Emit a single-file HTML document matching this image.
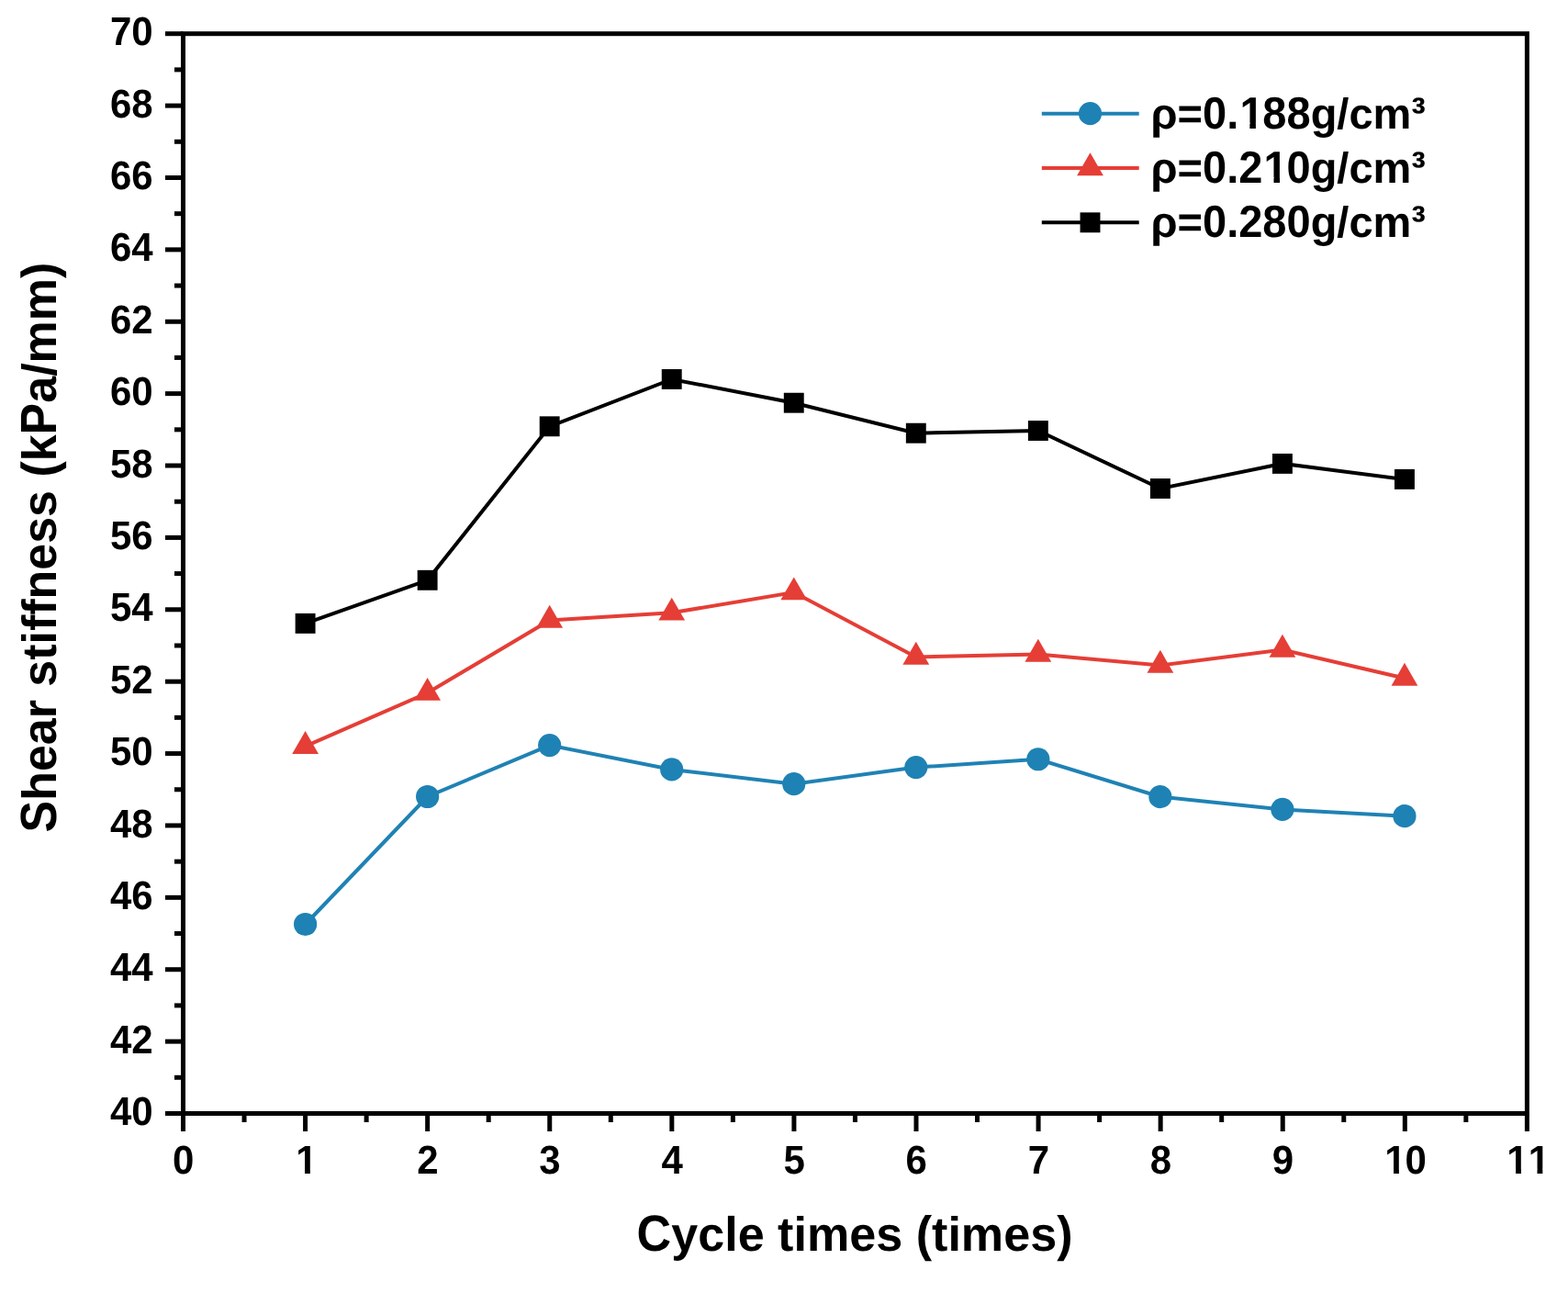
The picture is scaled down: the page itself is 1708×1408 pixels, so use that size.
<!DOCTYPE html>
<html><head><meta charset="utf-8"><title>Shear stiffness vs cycle times</title>
<style>
html,body{margin:0;padding:0;background:#fff;}
body{width:1708px;height:1408px;overflow:hidden;}
svg{display:block;}
text{font-family:"Liberation Sans",Arial,sans-serif;font-weight:bold;fill:#000;font-kerning:none;text-rendering:geometricPrecision;}
</style></head><body>
<svg width="1708" height="1408" viewBox="0 0 1708 1408">
<rect width="1708" height="1408" fill="#fff"/>
<polyline points="332.60,1006.50 465.64,867.50 598.68,811.60 731.72,837.90 864.76,853.70 997.80,835.60 1130.84,826.75 1263.88,867.70 1396.92,881.40 1529.96,888.70" fill="none" stroke="#1f82b4" stroke-width="4" stroke-linejoin="miter"/>
<circle cx="332.60" cy="1006.50" r="12.6" fill="#1f82b4"/>
<circle cx="465.64" cy="867.50" r="12.6" fill="#1f82b4"/>
<circle cx="598.68" cy="811.60" r="12.6" fill="#1f82b4"/>
<circle cx="731.72" cy="837.90" r="12.6" fill="#1f82b4"/>
<circle cx="864.76" cy="853.70" r="12.6" fill="#1f82b4"/>
<circle cx="997.80" cy="835.60" r="12.6" fill="#1f82b4"/>
<circle cx="1130.84" cy="826.75" r="12.6" fill="#1f82b4"/>
<circle cx="1263.88" cy="867.70" r="12.6" fill="#1f82b4"/>
<circle cx="1396.92" cy="881.40" r="12.6" fill="#1f82b4"/>
<circle cx="1529.96" cy="888.70" r="12.6" fill="#1f82b4"/>
<polyline points="332.60,812.60 465.64,754.55 598.68,675.50 731.72,667.30 864.76,645.05 997.80,715.40 1130.84,712.50 1263.88,724.50 1396.92,707.50 1529.96,738.50" fill="none" stroke="#e53e36" stroke-width="4" stroke-linejoin="miter"/>
<polygon points="332.60,795.97 318.20,820.91 347.00,820.91" fill="#e53e36"/>
<polygon points="465.64,737.92 451.24,762.86 480.04,762.86" fill="#e53e36"/>
<polygon points="598.68,658.87 584.28,683.81 613.08,683.81" fill="#e53e36"/>
<polygon points="731.72,650.67 717.32,675.61 746.12,675.61" fill="#e53e36"/>
<polygon points="864.76,628.42 850.36,653.36 879.16,653.36" fill="#e53e36"/>
<polygon points="997.80,698.77 983.40,723.71 1012.20,723.71" fill="#e53e36"/>
<polygon points="1130.84,695.87 1116.44,720.81 1145.24,720.81" fill="#e53e36"/>
<polygon points="1263.88,707.87 1249.48,732.81 1278.28,732.81" fill="#e53e36"/>
<polygon points="1396.92,690.87 1382.52,715.81 1411.32,715.81" fill="#e53e36"/>
<polygon points="1529.96,721.87 1515.56,746.81 1544.36,746.81" fill="#e53e36"/>
<polyline points="332.60,678.90 465.64,631.80 598.68,464.30 731.72,412.95 864.76,438.70 997.80,471.70 1130.84,469.00 1263.88,532.00 1396.92,504.90 1529.96,521.90" fill="none" stroke="#000000" stroke-width="4" stroke-linejoin="miter"/>
<rect x="321.65" y="667.95" width="21.9" height="21.9" fill="#000000"/>
<rect x="454.69" y="620.85" width="21.9" height="21.9" fill="#000000"/>
<rect x="587.73" y="453.35" width="21.9" height="21.9" fill="#000000"/>
<rect x="720.77" y="402.00" width="21.9" height="21.9" fill="#000000"/>
<rect x="853.81" y="427.75" width="21.9" height="21.9" fill="#000000"/>
<rect x="986.85" y="460.75" width="21.9" height="21.9" fill="#000000"/>
<rect x="1119.89" y="458.05" width="21.9" height="21.9" fill="#000000"/>
<rect x="1252.93" y="521.05" width="21.9" height="21.9" fill="#000000"/>
<rect x="1385.97" y="493.95" width="21.9" height="21.9" fill="#000000"/>
<rect x="1519.01" y="510.95" width="21.9" height="21.9" fill="#000000"/>
<rect x="199.50" y="36.70" width="1463.90" height="1175.80" fill="none" stroke="#000" stroke-width="5"/>
<line x1="180.00" y1="1212.50" x2="199.50" y2="1212.50" stroke="#000" stroke-width="5"/>
<line x1="190.00" y1="1173.31" x2="199.50" y2="1173.31" stroke="#000" stroke-width="5"/>
<line x1="180.00" y1="1134.11" x2="199.50" y2="1134.11" stroke="#000" stroke-width="5"/>
<line x1="190.00" y1="1094.92" x2="199.50" y2="1094.92" stroke="#000" stroke-width="5"/>
<line x1="180.00" y1="1055.73" x2="199.50" y2="1055.73" stroke="#000" stroke-width="5"/>
<line x1="190.00" y1="1016.53" x2="199.50" y2="1016.53" stroke="#000" stroke-width="5"/>
<line x1="180.00" y1="977.34" x2="199.50" y2="977.34" stroke="#000" stroke-width="5"/>
<line x1="190.00" y1="938.15" x2="199.50" y2="938.15" stroke="#000" stroke-width="5"/>
<line x1="180.00" y1="898.95" x2="199.50" y2="898.95" stroke="#000" stroke-width="5"/>
<line x1="190.00" y1="859.76" x2="199.50" y2="859.76" stroke="#000" stroke-width="5"/>
<line x1="180.00" y1="820.57" x2="199.50" y2="820.57" stroke="#000" stroke-width="5"/>
<line x1="190.00" y1="781.37" x2="199.50" y2="781.37" stroke="#000" stroke-width="5"/>
<line x1="180.00" y1="742.18" x2="199.50" y2="742.18" stroke="#000" stroke-width="5"/>
<line x1="190.00" y1="702.99" x2="199.50" y2="702.99" stroke="#000" stroke-width="5"/>
<line x1="180.00" y1="663.79" x2="199.50" y2="663.79" stroke="#000" stroke-width="5"/>
<line x1="190.00" y1="624.60" x2="199.50" y2="624.60" stroke="#000" stroke-width="5"/>
<line x1="180.00" y1="585.41" x2="199.50" y2="585.41" stroke="#000" stroke-width="5"/>
<line x1="190.00" y1="546.21" x2="199.50" y2="546.21" stroke="#000" stroke-width="5"/>
<line x1="180.00" y1="507.02" x2="199.50" y2="507.02" stroke="#000" stroke-width="5"/>
<line x1="190.00" y1="467.83" x2="199.50" y2="467.83" stroke="#000" stroke-width="5"/>
<line x1="180.00" y1="428.63" x2="199.50" y2="428.63" stroke="#000" stroke-width="5"/>
<line x1="190.00" y1="389.44" x2="199.50" y2="389.44" stroke="#000" stroke-width="5"/>
<line x1="180.00" y1="350.25" x2="199.50" y2="350.25" stroke="#000" stroke-width="5"/>
<line x1="190.00" y1="311.05" x2="199.50" y2="311.05" stroke="#000" stroke-width="5"/>
<line x1="180.00" y1="271.86" x2="199.50" y2="271.86" stroke="#000" stroke-width="5"/>
<line x1="190.00" y1="232.67" x2="199.50" y2="232.67" stroke="#000" stroke-width="5"/>
<line x1="180.00" y1="193.47" x2="199.50" y2="193.47" stroke="#000" stroke-width="5"/>
<line x1="190.00" y1="154.28" x2="199.50" y2="154.28" stroke="#000" stroke-width="5"/>
<line x1="180.00" y1="115.09" x2="199.50" y2="115.09" stroke="#000" stroke-width="5"/>
<line x1="190.00" y1="75.89" x2="199.50" y2="75.89" stroke="#000" stroke-width="5"/>
<line x1="180.00" y1="36.70" x2="199.50" y2="36.70" stroke="#000" stroke-width="5"/>
<line x1="199.50" y1="1212.50" x2="199.50" y2="1232.00" stroke="#000" stroke-width="5"/>
<line x1="266.04" y1="1212.50" x2="266.04" y2="1222.00" stroke="#000" stroke-width="5"/>
<line x1="332.58" y1="1212.50" x2="332.58" y2="1232.00" stroke="#000" stroke-width="5"/>
<line x1="399.12" y1="1212.50" x2="399.12" y2="1222.00" stroke="#000" stroke-width="5"/>
<line x1="465.66" y1="1212.50" x2="465.66" y2="1232.00" stroke="#000" stroke-width="5"/>
<line x1="532.20" y1="1212.50" x2="532.20" y2="1222.00" stroke="#000" stroke-width="5"/>
<line x1="598.75" y1="1212.50" x2="598.75" y2="1232.00" stroke="#000" stroke-width="5"/>
<line x1="665.29" y1="1212.50" x2="665.29" y2="1222.00" stroke="#000" stroke-width="5"/>
<line x1="731.83" y1="1212.50" x2="731.83" y2="1232.00" stroke="#000" stroke-width="5"/>
<line x1="798.37" y1="1212.50" x2="798.37" y2="1222.00" stroke="#000" stroke-width="5"/>
<line x1="864.91" y1="1212.50" x2="864.91" y2="1232.00" stroke="#000" stroke-width="5"/>
<line x1="931.45" y1="1212.50" x2="931.45" y2="1222.00" stroke="#000" stroke-width="5"/>
<line x1="997.99" y1="1212.50" x2="997.99" y2="1232.00" stroke="#000" stroke-width="5"/>
<line x1="1064.53" y1="1212.50" x2="1064.53" y2="1222.00" stroke="#000" stroke-width="5"/>
<line x1="1131.07" y1="1212.50" x2="1131.07" y2="1232.00" stroke="#000" stroke-width="5"/>
<line x1="1197.61" y1="1212.50" x2="1197.61" y2="1222.00" stroke="#000" stroke-width="5"/>
<line x1="1264.15" y1="1212.50" x2="1264.15" y2="1232.00" stroke="#000" stroke-width="5"/>
<line x1="1330.70" y1="1212.50" x2="1330.70" y2="1222.00" stroke="#000" stroke-width="5"/>
<line x1="1397.24" y1="1212.50" x2="1397.24" y2="1232.00" stroke="#000" stroke-width="5"/>
<line x1="1463.78" y1="1212.50" x2="1463.78" y2="1222.00" stroke="#000" stroke-width="5"/>
<line x1="1530.32" y1="1212.50" x2="1530.32" y2="1232.00" stroke="#000" stroke-width="5"/>
<line x1="1596.86" y1="1212.50" x2="1596.86" y2="1222.00" stroke="#000" stroke-width="5"/>
<line x1="1663.40" y1="1212.50" x2="1663.40" y2="1232.00" stroke="#000" stroke-width="5"/>
<text transform="translate(119.98,1225.10) scale(1,1.04)" font-size="42">40</text>
<text transform="translate(119.98,1146.71) scale(1,1.04)" font-size="42">42</text>
<text transform="translate(119.98,1068.33) scale(1,1.04)" font-size="42">44</text>
<text transform="translate(119.98,989.94) scale(1,1.04)" font-size="42">46</text>
<text transform="translate(119.98,911.55) scale(1,1.04)" font-size="42">48</text>
<text transform="translate(119.98,833.17) scale(1,1.04)" font-size="42">50</text>
<text transform="translate(119.98,754.78) scale(1,1.04)" font-size="42">52</text>
<text transform="translate(119.98,676.39) scale(1,1.04)" font-size="42">54</text>
<text transform="translate(119.98,598.01) scale(1,1.04)" font-size="42">56</text>
<text transform="translate(119.98,519.62) scale(1,1.04)" font-size="42">58</text>
<text transform="translate(119.98,441.23) scale(1,1.04)" font-size="42">60</text>
<text transform="translate(119.98,362.85) scale(1,1.04)" font-size="42">62</text>
<text transform="translate(119.98,284.46) scale(1,1.04)" font-size="42">64</text>
<text transform="translate(119.98,206.07) scale(1,1.04)" font-size="42">66</text>
<text transform="translate(119.98,127.69) scale(1,1.04)" font-size="42">68</text>
<text transform="translate(119.98,49.30) scale(1,1.04)" font-size="42">70</text>
<text transform="translate(188.07,1278.30) scale(1,1.04)" font-size="42">0</text>
<text transform="translate(321.15,1278.30) scale(1,1.04)" font-size="42"><tspan dx="1.09">1</tspan></text>
<rect x="323.90" y="1272.84" width="8.10" height="7.46" fill="#fff"/>
<rect x="337.85" y="1272.84" width="7.54" height="7.46" fill="#fff"/>
<text transform="translate(454.23,1278.30) scale(1,1.04)" font-size="42">2</text>
<text transform="translate(587.32,1278.30) scale(1,1.04)" font-size="42">3</text>
<text transform="translate(720.40,1278.30) scale(1,1.04)" font-size="42">4</text>
<text transform="translate(853.48,1278.30) scale(1,1.04)" font-size="42">5</text>
<text transform="translate(986.56,1278.30) scale(1,1.04)" font-size="42">6</text>
<text transform="translate(1119.64,1278.30) scale(1,1.04)" font-size="42">7</text>
<text transform="translate(1252.73,1278.30) scale(1,1.04)" font-size="42">8</text>
<text transform="translate(1385.81,1278.30) scale(1,1.04)" font-size="42">9</text>
<text transform="translate(1507.21,1278.30) scale(1,1.04)" font-size="42"><tspan dx="1.09">1</tspan><tspan dx="-1.09">0</tspan></text>
<rect x="1509.95" y="1272.84" width="8.10" height="7.46" fill="#fff"/>
<rect x="1523.91" y="1272.84" width="7.54" height="7.46" fill="#fff"/>
<text transform="translate(1640.29,1278.30) scale(1,1.04)" font-size="42"><tspan dx="1.09">1</tspan><tspan dx="0.00">1</tspan></text>
<rect x="1643.03" y="1272.84" width="8.10" height="7.46" fill="#fff"/>
<rect x="1656.99" y="1272.84" width="7.54" height="7.46" fill="#fff"/>
<rect x="1666.39" y="1272.84" width="8.10" height="7.46" fill="#fff"/>
<rect x="1680.35" y="1272.84" width="7.54" height="7.46" fill="#fff"/>
<text transform="translate(693.61,1361.80) scale(1,1.065)" font-size="52.1">C</text>
<text transform="translate(731.24,1361.80) scale(1,1.01)" font-size="52.1">ycle times </text>
<text transform="translate(997.69,1361.80) scale(1,1.03)" font-size="52.1">(</text>
<text transform="translate(1015.04,1361.80) scale(1,1.01)" font-size="52.1">times</text>
<text transform="translate(1151.14,1361.80) scale(1,1.03)" font-size="52.1">)</text>
<g transform="translate(61.0,596.10) rotate(-90)">
<text transform="translate(-310.37,0.00) scale(1,1.065)" font-size="51.95">S</text>
<text transform="translate(-275.72,0.00) scale(1,1.01)" font-size="51.95">hear stiffness </text>
<text transform="translate(76.52,0.00) scale(1,1.03)" font-size="51.95">(</text>
<text transform="translate(93.82,0.00) scale(1,1.01)" font-size="51.95">k</text>
<text transform="translate(122.71,0.00) scale(1,1.065)" font-size="51.95">P</text>
<text transform="translate(157.36,0.00) scale(1,1.01)" font-size="51.95">a/mm</text>
<text transform="translate(293.07,0.00) scale(1,1.03)" font-size="51.95">)</text>
</g>
<line x1="1134.8" y1="123.7" x2="1240.7" y2="123.7" stroke="#1f82b4" stroke-width="4"/>
<circle cx="1187.50" cy="123.70" r="12.6" fill="#1f82b4"/>
<text transform="translate(1253.50,139.70) scale(1,1.0)" font-size="47">ρ=</text>
<text transform="translate(1310.02,139.70) scale(1,1.045)" font-size="47">0.<tspan dx="1.22">1</tspan><tspan dx="-1.22">8</tspan>8</text>
<rect x="1352.36" y="133.69" width="9.00" height="8.01" fill="#fff"/>
<rect x="1367.91" y="133.69" width="8.38" height="8.01" fill="#fff"/>
<text transform="translate(1427.64,139.70) scale(1,1.0)" font-size="47">g/cm</text>
<text transform="translate(1537.34,139.70) scale(1,1.035)" font-size="47">³</text>
<line x1="1134.8" y1="182.9" x2="1240.7" y2="182.9" stroke="#e53e36" stroke-width="4"/>
<polygon points="1187.50,166.27 1173.10,191.21 1201.90,191.21" fill="#e53e36"/>
<text transform="translate(1253.50,198.90) scale(1,1.0)" font-size="47">ρ=</text>
<text transform="translate(1310.02,198.90) scale(1,1.045)" font-size="47">0.2<tspan dx="1.22">1</tspan><tspan dx="-1.22">0</tspan></text>
<rect x="1378.50" y="192.89" width="9.00" height="8.01" fill="#fff"/>
<rect x="1394.05" y="192.89" width="8.38" height="8.01" fill="#fff"/>
<text transform="translate(1427.64,198.90) scale(1,1.0)" font-size="47">g/cm</text>
<text transform="translate(1537.34,198.90) scale(1,1.035)" font-size="47">³</text>
<line x1="1134.8" y1="242.3" x2="1240.7" y2="242.3" stroke="#000000" stroke-width="4"/>
<rect x="1176.55" y="231.35" width="21.9" height="21.9" fill="#000000"/>
<text transform="translate(1253.50,258.30) scale(1,1.0)" font-size="47">ρ=</text>
<text transform="translate(1310.02,258.30) scale(1,1.045)" font-size="47">0.280</text>
<text transform="translate(1427.64,258.30) scale(1,1.0)" font-size="47">g/cm</text>
<text transform="translate(1537.34,258.30) scale(1,1.035)" font-size="47">³</text>
</svg>
</body></html>
